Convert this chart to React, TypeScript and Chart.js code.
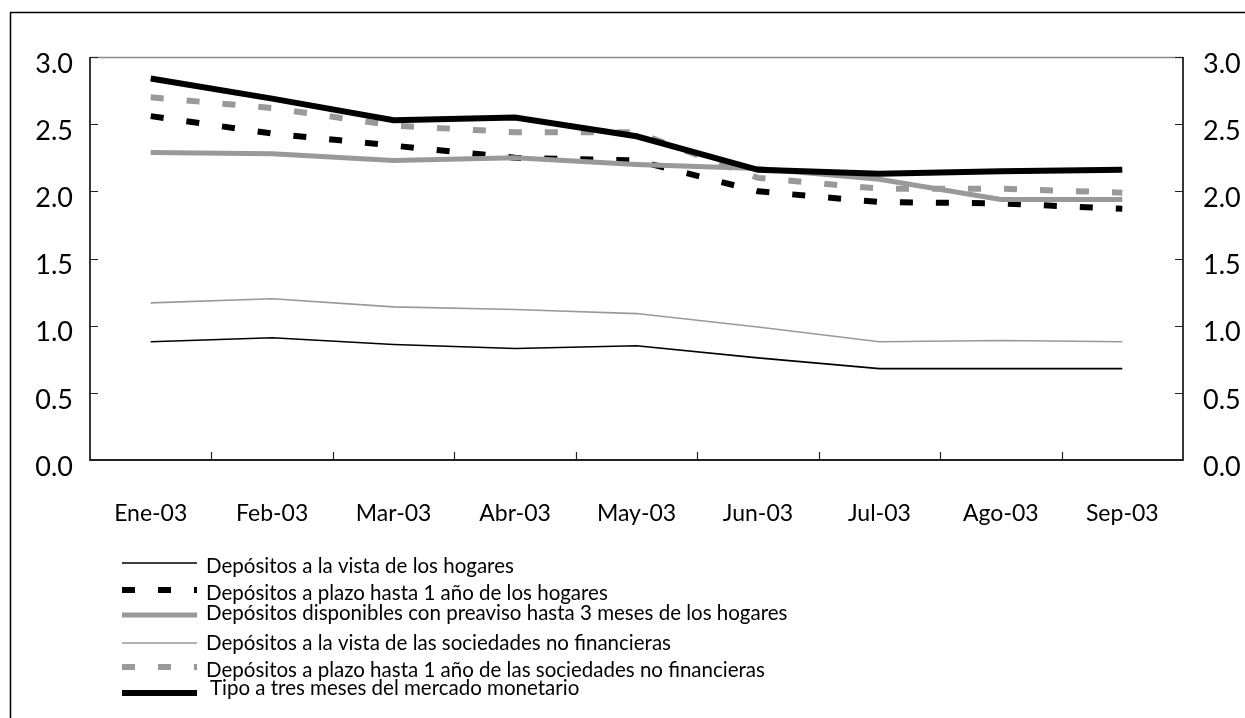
import React, { useEffect, useRef } from "react";
import { Chart, registerables } from "chart.js";

Chart.register(...registerables);

const categories = ["Ene-03", "Feb-03", "Mar-03", "Abr-03", "May-03", "Jun-03", "Jul-03", "Ago-03", "Sep-03"];
const yTickValues = [0, 0.5, 1.0, 1.5, 2.0, 2.5, 3.0];

const vistaHogares = [0.88, 0.91, 0.86, 0.83, 0.85, 0.76, 0.68, 0.68, 0.68];
const plazoHogares = [2.56, 2.43, 2.34, 2.25, 2.23, 2.0, 1.92, 1.91, 1.87];
const preavisoHogares = [2.29, 2.28, 2.23, 2.25, 2.2, 2.17, 2.09, 1.94, 1.94];
const vistaSociedades = [1.17, 1.2, 1.14, 1.12, 1.09, 0.99, 0.88, 0.89, 0.88];
const plazoSociedades = [2.7, 2.62, 2.49, 2.44, 2.44, 2.1, 2.02, 2.02, 1.99];
const tipoMonetario = [2.84, 2.69, 2.53, 2.55, 2.41, 2.16, 2.13, 2.15, 2.16];

const seriesLabels = [
  "Depósitos a la vista de los hogares",
  "Depósitos a plazo hasta 1 año de los hogares",
  "Depósitos disponibles con preaviso hasta 3 meses de los hogares",
  "Depósitos a la vista de las sociedades no financieras",
  "Depósitos a plazo hasta 1 año de las sociedades no financieras",
  "Tipo a tres meses del mercado monetario",
];

const FONT = 'Lato, "Open Sans", sans-serif';
const BLACK = "#000000";
const GRAY = "#999999";

// legend layout: [lineY, textBaseline, textX]
const legendRows = [
  [563, 573, 206],
  [590, 600, 206],
  [615, 620, 206],
  [643, 650, 206],
  [667, 677, 206],
  [693, 695, 210],
];

const decorPlugin = {
  id: "decor",
  beforeDraw(chart: any) {
    const ctx = chart.ctx;
    ctx.save();
    ctx.fillStyle = "#ffffff";
    ctx.fillRect(0, 0, chart.width, chart.height);
    ctx.restore();
  },
  beforeDatasetsDraw(chart: any) {
    const { ctx, chartArea: a, scales } = chart;
    ctx.save();
    // outer frame
    ctx.strokeStyle = BLACK;
    ctx.lineWidth = 1.5;
    ctx.beginPath();
    ctx.moveTo(10.5, 3000);
    ctx.lineTo(10.5, 12.5);
    ctx.lineTo(3000, 12.5);
    ctx.stroke();
    // top plot border (gray)
    ctx.strokeStyle = "#8a8a8a";
    ctx.lineWidth = 1.5;
    ctx.beginPath();
    ctx.moveTo(a.left, a.top + 0.5);
    ctx.lineTo(a.right, a.top + 0.5);
    ctx.stroke();
    // axes
    ctx.strokeStyle = "#222";
    ctx.lineWidth = 1.8;
    ctx.beginPath();
    ctx.moveTo(a.left, a.top);
    ctx.lineTo(a.left, a.bottom);
    ctx.lineTo(a.right, a.bottom);
    ctx.lineTo(a.right, a.top);
    ctx.stroke();
    // y ticks (inward)
    ctx.lineWidth = 1.2;
    const yl = scales.y;
    ctx.beginPath();
    for (const v of yTickValues) {
      const py = Math.round(yl.getPixelForValue(v)) + 0.5;
      ctx.moveTo(a.left, py);
      ctx.lineTo(a.left + 8, py);
      ctx.moveTo(a.right - 8, py);
      ctx.lineTo(a.right, py);
    }
    // x ticks between categories (inward)
    const xs = scales.x;
    for (let i = 1; i < categories.length; i++) {
      const px = Math.round((xs.getPixelForValue(i - 1) + xs.getPixelForValue(i)) / 2) + 0.5;
      ctx.moveTo(px, a.bottom);
      ctx.lineTo(px, a.bottom - 8);
    }
    ctx.stroke();
    ctx.restore();
  },
  afterDraw(chart: any) {
    const ctx = chart.ctx;
    ctx.save();
    chart.data.datasets.forEach((ds: any, i: number) => {
      const [ly, ty, tx] = legendRows[i];
      ctx.strokeStyle = ds.borderColor;
      ctx.lineWidth = ds.borderWidth;
      ctx.lineCap = "butt";
      ctx.setLineDash(ds.borderDash || []);
      ctx.beginPath();
      ctx.moveTo(122, ly);
      ctx.lineTo(197, ly);
      ctx.stroke();
      ctx.setLineDash([]);
      ctx.fillStyle = "#000";
      ctx.font = `20.5px ${FONT}`;
      ctx.textBaseline = "alphabetic";
      ctx.textAlign = "left";
      ctx.fillText(ds.label, tx, ty);
    });
    ctx.restore();
  },
};

export default function App() {
  const ref = useRef<HTMLCanvasElement | null>(null);
  useEffect(() => {
    document.body.style.margin = "0";
    const canvas = ref.current!;
    const mk = (label: string, data: number[], color: string, width: number, dash: number[], order: number) => ({
      label,
      data,
      borderColor: color,
      backgroundColor: color,
      borderWidth: width,
      borderDash: dash,
      borderCapStyle: "butt",
      borderJoinStyle: "miter",
      pointRadius: 0,
      tension: 0,
      fill: false,
      order,
    });
    const chart = new Chart(canvas, {
      type: "line",
      data: {
        labels: categories,
        datasets: [
          mk(seriesLabels[0], vistaHogares, BLACK, 1.6, [], 5),
          mk(seriesLabels[1], plazoHogares, BLACK, 6, [13, 23], 3),
          mk(seriesLabels[2], preavisoHogares, GRAY, 5, [], 2),
          mk(seriesLabels[3], vistaSociedades, GRAY, 1.6, [], 4),
          mk(seriesLabels[4], plazoSociedades, GRAY, 6, [13, 23], 1),
          mk(seriesLabels[5], tipoMonetario, BLACK, 6, [], 0),
        ] as any,
      },
      options: {
        responsive: false,
        animation: false,
        layout: { padding: { top: 57, left: 0, right: 0, bottom: 0 } },
        plugins: { legend: { display: false }, tooltip: { enabled: false } },
        scales: {
          x: {
            offset: true,
            grid: { display: false, drawTicks: false },
            border: { display: false },
            ticks: { color: "#000", font: { family: FONT, size: 23 }, padding: 40, maxRotation: 0 },
            afterFit: (s: any) => {
              s.height = 258;
            },
          },
          y: {
            position: "left",
            min: 0,
            max: 3,
            grid: { display: false, drawTicks: false },
            border: { display: false },
            ticks: {
              stepSize: 0.5,
              color: "#000",
              font: { family: FONT, size: 27 },
              padding: 17,
              labelOffset: 7,
              callback: (v: any) => Number(v).toFixed(1),
            },
            afterFit: (s: any) => {
              s.width = 90;
            },
          },
          y2: {
            position: "right",
            min: 0,
            max: 3,
            grid: { display: false, drawTicks: false },
            border: { display: false },
            ticks: {
              stepSize: 0.5,
              color: "#000",
              font: { family: FONT, size: 27 },
              padding: 20,
              labelOffset: 7,
              callback: (v: any) => Number(v).toFixed(1),
            },
            afterFit: (s: any) => {
              s.width = 62;
            },
          },
        },
      } as any,
      plugins: [decorPlugin],
    });
    return () => chart.destroy();
  }, []);
  return <canvas ref={ref} width={1245} height={718} style={{ display: "block" }} />;
}
